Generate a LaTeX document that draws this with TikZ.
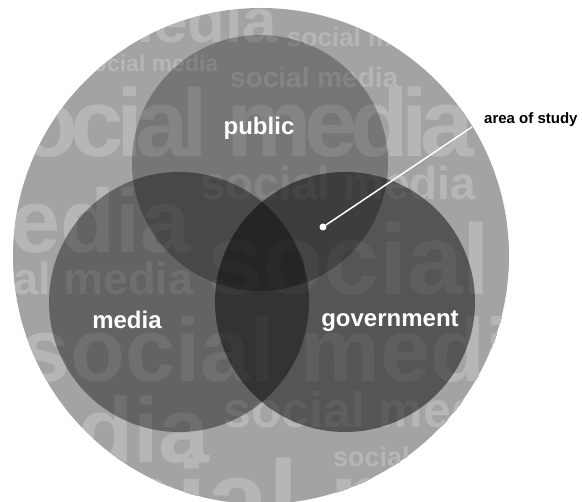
\documentclass[tikz,border=0pt]{standalone}
\usepackage{fontspec}
\setmainfont{Liberation Sans}
\definecolor{ringgrey}{RGB}{163,163,163}
\definecolor{wordgrey}{RGB}{182,182,182}

\begin{document}
\begin{tikzpicture}[%
  x=1pt, y=-1pt, % image pixels, y downwards
  every node/.style={inner sep=0pt},
  setdisc/.style={circle, draw=none, fill=black, minimum size=#1},
  bgword/.style={anchor=base west, text=wordgrey, font=\fontsize{#1}{#1}\selectfont\bfseries},
  tightword/.style={anchor=base west, text=wordgrey, font=\fontsize{#1}{#1}\selectfont\bfseries\addfontfeatures{LetterSpace=-8}},
  setlabel/.style={text=white, font=\fontsize{24}{24}\selectfont\bfseries}
]
\useasboundingbox (0,0) rectangle (582,502);

% Outer disc
\node [circle, fill=ringgrey, minimum size=496pt] (universe) at (261,256) {};

% Background words, clipped to the outer disc
\begin{scope}
  \clip (261,256) circle (248);
  \node [bgword=62] (w1) at (98,43) {media};
  \node [bgword=26] (w2) at (287,47) {social media};
  \node [bgword=23] (w3) at (80,72) {social media};
  \node [bgword=28] (w4) at (230,88) {social media};
  \node [tightword=96] (w5) at (-26,157) {social media};
  \node [bgword=46] (w6) at (200,200) {social media};
  \node [bgword=90] (w7) at (-70,253) {media};
  \node [bgword=45] (w8) at (-77,295) {social media};
  \node [bgword=100] (w9) at (207,295) {social};
  \node [bgword=90] (w10) at (20,382) {social media};
  \node [bgword=92] (w11) at (-56,463) {media};
  \node [bgword=50] (w12) at (223,428) {social media};
  \node [bgword=27] (w13) at (333,467) {social};
  \node [bgword=110] (w14) at (-13,538) {social media};
\end{scope}

% The three sets
\node [setdisc=256pt, fill opacity=0.27] (public) at (260,163) {};
\node [setdisc=260pt, fill opacity=0.39] (media) at (179,302) {};
\node [setdisc=260pt, fill opacity=0.48] (government) at (345,302) {};

% Set labels
\node [setlabel] (publiclabel) at (259,128) {public};
\node [setlabel] (medialabel) at (127,320) {media};
\node [setlabel] (governmentlabel) at (390,321) {government};

% Area of study
\node [circle, fill=white, minimum size=7pt] (study) at (323,227) {};
\node [anchor=west, font=\fontsize{15}{15}\selectfont\bfseries] (studylabel) at (484,120) {area of study};
\coordinate (leader) at (472,127);
\draw [white, line width=1.5pt] (study) -- (leader);

\end{tikzpicture}
\end{document}
